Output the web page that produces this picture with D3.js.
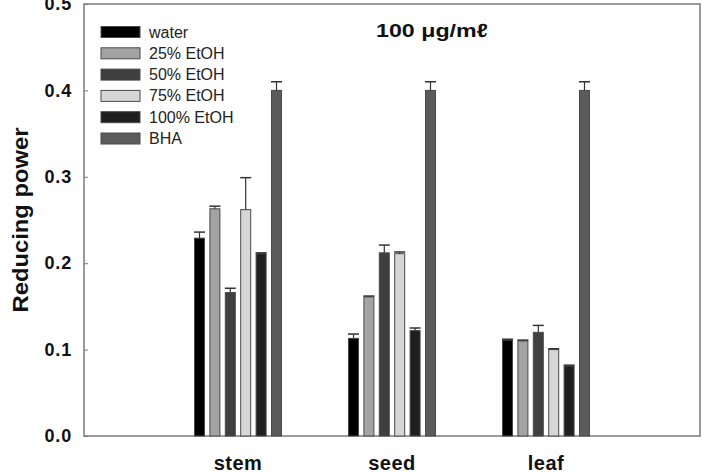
<!DOCTYPE html>
<html>
<head>
<meta charset="utf-8">
<script src="https://cdnjs.cloudflare.com/ajax/libs/d3/7.8.5/d3.min.js"></script>
<style>
  body { margin: 0; background: #fff; }
  text { font-family: Arial, "Liberation Sans", sans-serif; }
</style>
</head>
<body>
<div id="chart-area"></div>
<script>
// data
const categories = ["stem", "seed", "leaf"]
const catPos = [1, 2, 3]
const series = ["water", "25% EtOH", "50% EtOH", "75% EtOH", "100% EtOH", "BHA"]
const colors = ["#000000", "#a3a3a3", "#3f3f3f", "#d6d6d6", "#1f1f1f", "#5b5b5b"]

const water = [0.229, 0.113, 0.111]
const waterErr = [0.007, 0.005, 0.001]
const etoh25 = [0.263, 0.161, 0.110]
const etoh25Err = [0.003, 0.001, 0.001]
const etoh50 = [0.166, 0.212, 0.120]
const etoh50Err = [0.005, 0.009, 0.008]
const etoh75 = [0.262, 0.211, 0.100]
const etoh75Err = [0.037, 0.002, 0.001]
const etoh100 = [0.211, 0.122, 0.081]
const etoh100Err = [0.001, 0.003, 0.001]
const bha = [0.400, 0.400, 0.400]
const bhaErr = [0.010, 0.010, 0.010]

const yTicks = [0, 0.1, 0.2, 0.3, 0.4, 0.5]
const yTickLabels = ["0.0", "0.1", "0.2", "0.3", "0.4", "0.5"]

const values = [water, etoh25, etoh50, etoh75, etoh100, bha]
const errors = [waterErr, etoh25Err, etoh50Err, etoh75Err, etoh100Err, bhaErr]

const MARGIN = { LEFT: 84, RIGHT: 7, TOP: 4, BOTTOM: 36 }
const WIDTH = 707 - MARGIN.LEFT - MARGIN.RIGHT
const HEIGHT = 472 - MARGIN.TOP - MARGIN.BOTTOM

const svg = d3.select("#chart-area").append("svg")
  .attr("width", 707)
  .attr("height", 472)

const g = svg.append("g")
  .attr("transform", `translate(${MARGIN.LEFT}, ${MARGIN.TOP})`)

// scales
const x = d3.scaleLinear().domain([0, 4]).range([0, WIDTH])
const y = d3.scaleLinear().domain([0, 0.5]).range([HEIGHT, 0])

const STEP = 0.1
const BAR_W = 0.065

// frame
g.append("rect")
  .attr("width", WIDTH)
  .attr("height", HEIGHT)
  .attr("fill", "none")
  .attr("stroke", "#7a7a7a")
  .attr("stroke-width", 1.5)

// y axis (inward ticks)
const yAxis = g.append("g")
  .call(d3.axisLeft(y).tickValues(yTicks).tickSize(-4).tickPadding(12)
    .tickFormat((d, i) => yTickLabels[i]))
yAxis.select(".domain").remove()
yAxis.selectAll("line").attr("stroke", "#7a7a7a")
yAxis.selectAll("text")
  .attr("font-size", "18px")
  .attr("font-weight", "bold")
  .attr("letter-spacing", "0.8px")
  .attr("fill", "#111")

// category labels
g.selectAll(".cat-label")
  .data(categories)
  .enter().append("text")
  .attr("class", "cat-label")
  .attr("x", (d, i) => x(catPos[i]))
  .attr("y", HEIGHT + 34)
  .attr("text-anchor", "middle")
  .attr("font-size", "20px")
  .attr("font-weight", "bold")
  .attr("letter-spacing", "0.5px")
  .attr("fill", "#111")
  .text(d => d)

// y-axis label
g.append("text")
  .attr("transform", "rotate(-90)")
  .attr("x", -(220 - MARGIN.TOP))
  .attr("y", 20 - MARGIN.LEFT)
  .attr("dominant-baseline", "central")
  .attr("text-anchor", "middle")
  .attr("font-size", "22px")
  .attr("font-weight", "bold")
  .attr("textLength", 185)
  .attr("lengthAdjust", "spacingAndGlyphs")
  .attr("fill", "#111")
  .text("Reducing power")

// bars + error bars
series.forEach((s, j) => {
  const off = (j - 2.5) * STEP
  const grp = g.append("g").attr("class", "series")
  grp.selectAll("rect")
    .data(values[j])
    .enter().append("rect")
    .attr("x", (d, i) => x(catPos[i] + off - BAR_W / 2))
    .attr("width", x(BAR_W) - x(0))
    .attr("y", d => y(d))
    .attr("height", d => HEIGHT - y(d))
    .attr("fill", colors[j])
    .attr("stroke", "#4a4a4a")
    .attr("stroke-width", 1)

  const capW = x(BAR_W * 1.1) - x(0)
  values[j].forEach((d, i) => {
    const cx = x(catPos[i] + off)
    const top = y(d + errors[j][i])
    grp.append("line")
      .attr("x1", cx).attr("x2", cx)
      .attr("y1", y(d)).attr("y2", top)
      .attr("stroke", "#333").attr("stroke-width", 1.2)
    grp.append("line")
      .attr("x1", cx - capW / 2).attr("x2", cx + capW / 2)
      .attr("y1", top).attr("y2", top)
      .attr("stroke", "#333").attr("stroke-width", 1.5)
  })
})

// legend
const legend = g.append("g").attr("transform", "translate(17, 28)")
series.forEach((s, j) => {
  const row = legend.append("g").attr("transform", `translate(0, ${j * 21.3})`)
  row.append("rect")
    .attr("x", 0).attr("y", -5.5)
    .attr("width", 39).attr("height", 11)
    .attr("fill", colors[j])
    .attr("stroke", "#4a4a4a")
  row.append("text")
    .attr("x", 48)
    .attr("dominant-baseline", "central")
    .attr("font-size", "16px")
    .attr("fill", "#222")
    .text(s)
})

// title
g.append("text")
  .attr("x", 292)
  .attr("y", 33)
  .attr("font-family", "'DejaVu Sans', sans-serif")
  .attr("font-size", "19px")
  .attr("font-weight", "bold")
  .attr("textLength", 112)
  .attr("lengthAdjust", "spacingAndGlyphs")
  .attr("fill", "#111")
  .text("100 \u03bcg/m\u2113")
</script>
</body>
</html>
